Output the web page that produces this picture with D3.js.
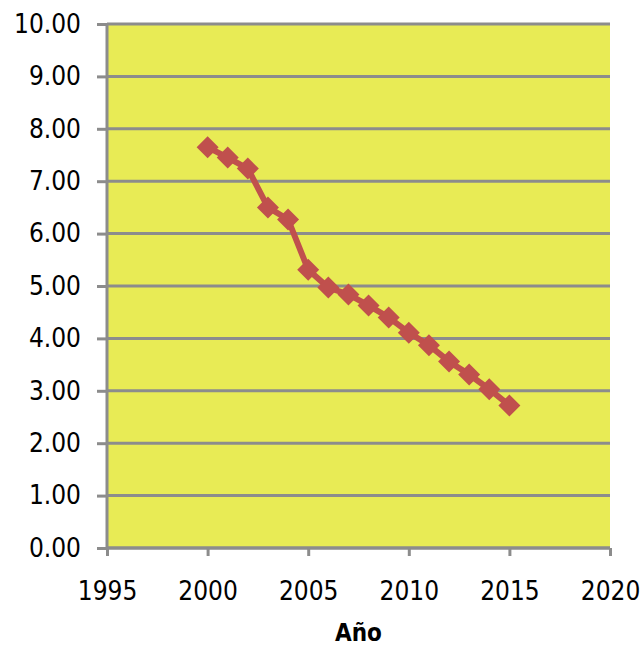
<!DOCTYPE html>
<html>
<head>
<meta charset="utf-8">
<script src="https://cdn.jsdelivr.net/npm/d3@7"></script>
<style>
  body { margin: 0; background: #fff; }
  text { font-family: "DejaVu Sans Condensed", "DejaVu Sans", sans-serif; font-stretch: condensed; fill: #000; }
</style>
</head>
<body>
<div id="chart"></div>
<script>
// data
var years = [2000, 2001, 2002, 2003, 2004, 2005, 2006, 2007, 2008, 2009, 2010, 2011, 2012, 2013, 2014, 2015];
var values = [7.65, 7.45, 7.24, 6.50, 6.27, 5.31, 4.97, 4.84, 4.63, 4.40, 4.11, 3.87, 3.56, 3.31, 3.03, 2.72];
var xTicks = [1995, 2000, 2005, 2010, 2015, 2020];
var yTicks = [0, 1, 2, 3, 4, 5, 6, 7, 8, 9, 10];
var xTitle = "Año";

var margin = { top: 24, right: 32, bottom: 99, left: 107 },
    width = 642 - margin.left - margin.right,
    height = 647 - margin.top - margin.bottom;

var svg = d3.select("#chart")
    .append("svg")
    .attr("width", 642)
    .attr("height", 647)
    .append("g")
    .attr("transform", "translate(" + margin.left + "," + margin.top + ")");

var x = d3.scaleLinear().domain([1995, 2020]).range([0, width]);
var y = d3.scaleLinear().domain([0, 10]).range([height, 0]);

// plot background
svg.append("rect")
    .attr("width", width)
    .attr("height", height)
    .attr("fill", "#e8eb55");

// horizontal grid lines
svg.append("g")
    .selectAll("line")
    .data(yTicks)
    .enter().append("line")
    .attr("x1", 0)
    .attr("x2", width)
    .attr("y1", function (d) { return y(d); })
    .attr("y2", function (d) { return y(d); })
    .attr("stroke", "#8c8c8c")
    .attr("stroke-width", 3);

// y axis
var yAxis = svg.append("g")
    .call(d3.axisLeft(y).tickValues(yTicks).tickSize(10).tickPadding(16)
        .tickFormat(d3.format(".2f")));
// x axis
var xAxis = svg.append("g")
    .attr("transform", "translate(0," + height + ")")
    .call(d3.axisBottom(x).tickValues(xTicks).tickSize(8).tickPadding(26)
        .tickFormat(d3.format("d")));

[yAxis, xAxis].forEach(function (ax) {
    ax.select(".domain").attr("stroke", "#8c8c8c").attr("stroke-width", 3);
    ax.selectAll(".tick line").attr("stroke", "#8c8c8c").attr("stroke-width", 3);
    ax.selectAll(".tick text")
        .style("font-family", "DejaVu Sans Condensed, DejaVu Sans, sans-serif")
        .style("font-size", "26px")
        .attr("fill", "#000");
});
yAxis.select(".domain").attr("d", "M0," + height + "V0");
xAxis.select(".domain").attr("d", "M0,0H" + width);

// x axis title
svg.append("text")
    .attr("x", x(2007.5))
    .attr("y", height + 93)
    .attr("text-anchor", "middle")
    .style("font-size", "24px")
    .style("font-weight", "bold")
    .text(xTitle);

var data = years.map(function (yr, i) { return { year: yr, value: values[i] }; });

// the line
svg.append("path")
    .datum(data)
    .attr("fill", "none")
    .attr("stroke", "#c0504d")
    .attr("stroke-width", 6)
    .attr("d", d3.line()
        .x(function (d) { return x(d.year); })
        .y(function (d) { return y(d.value); }));

// diamond markers
svg.append("g")
    .selectAll("path")
    .data(data)
    .enter().append("path")
    .attr("transform", function (d) { return "translate(" + x(d.year) + "," + y(d.value) + ")"; })
    .attr("d", "M0,-11L11,0L0,11L-11,0Z")
    .attr("fill", "#c0504d");
</script>
</body>
</html>
